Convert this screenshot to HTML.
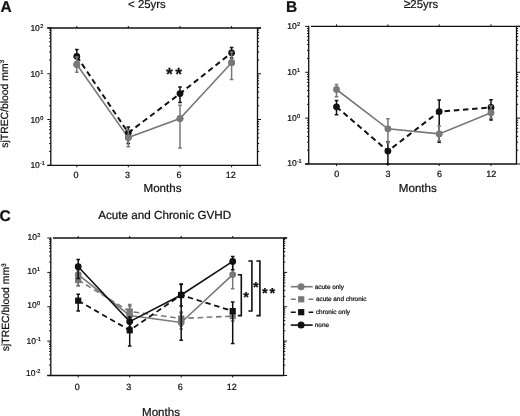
<!DOCTYPE html>
<html><head><meta charset="utf-8"><style>
html,body{margin:0;padding:0;background:#fff;}
svg{display:block;filter:grayscale(1);}
text{font-family:"Liberation Sans", sans-serif;fill:#111;text-rendering:geometricPrecision;stroke:#111;stroke-width:0.22px;}
</style></head><body>
<svg width="520" height="416" viewBox="0 0 520 416">
<rect width="520" height="416" fill="#fff"/>
<text x="0.6" y="11.7" font-size="15.5" font-weight="bold">A</text>
<text x="146.9" y="8.0" font-size="11.4" text-anchor="middle">&lt; 25yrs</text>
<path d="M47.3,28H261.0" stroke="#111" stroke-width="1.3" fill="none"/>
<path d="M47.3,165.3H257.5" stroke="#111" stroke-width="1.3" fill="none"/>
<path d="M50.8,27.4V165.3M257.5,28V165.9" stroke="#111" stroke-width="1.3" fill="none"/>
<path d="M47.30,28.00H50.8M257.5,28.00H261.00M47.30,73.77H50.8M257.5,73.77H261.00M47.30,119.53H50.8M257.5,119.53H261.00M47.30,165.30H50.8M257.5,165.30H261.00M49.10,59.99H50.8M257.5,59.99H259.20M49.10,51.93H50.8M257.5,51.93H259.20M49.10,46.21H50.8M257.5,46.21H259.20M49.10,41.78H50.8M257.5,41.78H259.20M49.10,38.15H50.8M257.5,38.15H259.20M49.10,35.09H50.8M257.5,35.09H259.20M49.10,32.44H50.8M257.5,32.44H259.20M49.10,30.09H50.8M257.5,30.09H259.20M49.10,105.76H50.8M257.5,105.76H259.20M49.10,97.70H50.8M257.5,97.70H259.20M49.10,91.98H50.8M257.5,91.98H259.20M49.10,87.54H50.8M257.5,87.54H259.20M49.10,83.92H50.8M257.5,83.92H259.20M49.10,80.86H50.8M257.5,80.86H259.20M49.10,78.20H50.8M257.5,78.20H259.20M49.10,75.86H50.8M257.5,75.86H259.20M49.10,151.52H50.8M257.5,151.52H259.20M49.10,143.46H50.8M257.5,143.46H259.20M49.10,137.75H50.8M257.5,137.75H259.20M49.10,133.31H50.8M257.5,133.31H259.20M49.10,129.69H50.8M257.5,129.69H259.20M49.10,126.62H50.8M257.5,126.62H259.20M49.10,123.97H50.8M257.5,123.97H259.20M49.10,121.63H50.8M257.5,121.63H259.20M76.8,28V26M76.8,165.3V167.3M128.3,28V26M128.3,165.3V167.3M180,28V26M180,165.3V167.3M231.6,28V26M231.6,165.3V167.3" stroke="#111" stroke-width="1" fill="none"/>
<text x="30.40" y="30.80" font-size="8.5">10<tspan font-size="5.6" dy="-3" dx="0.3">2</tspan></text>
<text x="30.40" y="76.77" font-size="8.5">10<tspan font-size="5.6" dy="-3" dx="0.3">1</tspan></text>
<text x="30.40" y="122.53" font-size="8.5">10<tspan font-size="5.6" dy="-3" dx="0.3">0</tspan></text>
<text x="30.40" y="167.90" font-size="8.5">10<tspan font-size="5.6" dy="-3" dx="0.3"><tspan font-size="4.5">-</tspan>1</tspan></text>
<text x="75.90" y="178.4" font-size="9" text-anchor="middle">0</text>
<text x="127.40" y="178.4" font-size="9" text-anchor="middle">3</text>
<text x="179.10" y="178.4" font-size="9" text-anchor="middle">6</text>
<text x="230.70" y="178.4" font-size="9" text-anchor="middle">12</text>
<text x="162.5" y="192" font-size="11.6" text-anchor="middle">Months</text>
<text transform="translate(7.6,147.7) rotate(-90)" font-size="10.4">sjTREC/blood mm<tspan font-size="6.5" dy="-3.5">3</tspan></text>
<polyline points="76.8,64.5 128.3,137.6 180,118.6 231.6,62.7" stroke="#787878" stroke-width="1.6" fill="none"/>
<path d="M180,105.2V148M178.2,105.2H181.8M178.2,148H181.8" stroke="#787878" stroke-width="1.5" fill="none"/>
<circle cx="76.8" cy="64.5" r="3.4" fill="#787878"/>
<circle cx="128.3" cy="137.6" r="3.4" fill="#787878"/>
<circle cx="180" cy="118.6" r="3.4" fill="#787878"/>
<circle cx="231.6" cy="62.7" r="3.4" fill="#787878"/>
<polyline points="76.8,56.3 128.3,132.8 180,93.6 231.6,52.8" stroke="#111" stroke-width="2.0" fill="none" stroke-dasharray="5.5 3.7"/>
<path d="M76.8,49.4V62M75.0,49.4H78.6M75.0,62H78.6M128.3,127V143.4M126.50000000000001,127H130.10000000000002M126.50000000000001,143.4H130.10000000000002M180,87.1V102.6M178.2,87.1H181.8M178.2,102.6H181.8M231.6,47.4V58M229.79999999999998,47.4H233.4M229.79999999999998,58H233.4" stroke="#111" stroke-width="1.5" fill="none"/>
<circle cx="76.8" cy="56.3" r="3.4" fill="#111"/>
<circle cx="128.3" cy="132.8" r="3.4" fill="#111"/>
<circle cx="180" cy="93.6" r="3.4" fill="#111"/>
<circle cx="231.6" cy="52.8" r="3.4" fill="#111"/>
<polyline points="76.8,64.5 128.3,137.6 180,118.6 231.6,62.7" stroke="#787878" stroke-width="0" fill="none"/>
<path d="M76.8,57V72.2M75.0,57H78.6M75.0,72.2H78.6M128.3,130V146.7M126.50000000000001,130H130.10000000000002M126.50000000000001,146.7H130.10000000000002M231.6,52V79.5M229.79999999999998,52H233.4M229.79999999999998,79.5H233.4" stroke="#787878" stroke-width="1.5" fill="none"/>
<circle cx="76.8" cy="64.5" r="3.4" fill="#787878"/>
<circle cx="128.3" cy="137.6" r="3.4" fill="#787878"/>
<circle cx="180" cy="118.6" r="3.4" fill="#787878"/>
<circle cx="231.6" cy="62.7" r="3.4" fill="#787878"/>
<text x="166.05" y="80.07" font-size="17.5" font-weight="bold">*</text>
<text x="175.35" y="80.07" font-size="17.5" font-weight="bold">*</text>
<text x="286.0" y="11.6" font-size="15.5" font-weight="bold">B</text>
<text x="403.8" y="7.9" font-size="12.5">≥</text><text x="410.3" y="7.9" font-size="11.4">25yrs</text>
<path d="M310.9,26.4H520.0" stroke="#111" stroke-width="1.3" fill="none"/>
<path d="M305.2,164H516.5" stroke="#111" stroke-width="1.3" fill="none"/>
<path d="M308.7,25.799999999999997V164M516.5,26.4V164.6" stroke="#111" stroke-width="1.3" fill="none"/>
<path d="M305.20,26.40H308.7M516.5,26.40H520.00M305.20,72.27H308.7M516.5,72.27H520.00M305.20,118.13H308.7M516.5,118.13H520.00M305.20,164.00H308.7M516.5,164.00H520.00M307.00,58.46H308.7M516.5,58.46H518.20M307.00,50.38H308.7M516.5,50.38H518.20M307.00,44.65H308.7M516.5,44.65H518.20M307.00,40.21H308.7M516.5,40.21H518.20M307.00,36.58H308.7M516.5,36.58H518.20M307.00,33.50H308.7M516.5,33.50H518.20M307.00,30.84H308.7M516.5,30.84H518.20M307.00,28.50H308.7M516.5,28.50H518.20M307.00,104.33H308.7M516.5,104.33H518.20M307.00,96.25H308.7M516.5,96.25H518.20M307.00,90.52H308.7M516.5,90.52H518.20M307.00,86.07H308.7M516.5,86.07H518.20M307.00,82.44H308.7M516.5,82.44H518.20M307.00,79.37H308.7M516.5,79.37H518.20M307.00,76.71H308.7M516.5,76.71H518.20M307.00,74.37H308.7M516.5,74.37H518.20M307.00,150.19H308.7M516.5,150.19H518.20M307.00,142.12H308.7M516.5,142.12H518.20M307.00,136.39H308.7M516.5,136.39H518.20M307.00,131.94H308.7M516.5,131.94H518.20M307.00,128.31H308.7M516.5,128.31H518.20M307.00,125.24H308.7M516.5,125.24H518.20M307.00,122.58H308.7M516.5,122.58H518.20M307.00,120.23H308.7M516.5,120.23H518.20M336.5,26.4V24.4M336.5,164V166M387.9,26.4V24.4M387.9,164V166M439.2,26.4V24.4M439.2,164V166M491,26.4V24.4M491,164V166" stroke="#111" stroke-width="1" fill="none"/>
<text x="287.20" y="29.40" font-size="8.5">10<tspan font-size="5.6" dy="-3" dx="0.3">2</tspan></text>
<text x="287.20" y="75.27" font-size="8.5">10<tspan font-size="5.6" dy="-3" dx="0.3">1</tspan></text>
<text x="287.20" y="121.13" font-size="8.5">10<tspan font-size="5.6" dy="-3" dx="0.3">0</tspan></text>
<text x="287.20" y="166.40" font-size="8.5">10<tspan font-size="5.6" dy="-3" dx="0.3"><tspan font-size="4.5">-</tspan>1</tspan></text>
<text x="336.70" y="177" font-size="9" text-anchor="middle">0</text>
<text x="388.10" y="177" font-size="9" text-anchor="middle">3</text>
<text x="439.40" y="177" font-size="9" text-anchor="middle">6</text>
<text x="491.20" y="177" font-size="9" text-anchor="middle">12</text>
<text x="417.8" y="192.0" font-size="11.6" text-anchor="middle">Months</text>
<polyline points="336.5,106.8 387.9,151.1 439.2,111.6 491,107.5" stroke="#111" stroke-width="2.0" fill="none" stroke-dasharray="5.5 3.7"/>
<path d="M336.5,100.6V114.7M334.7,100.6H338.3M334.7,114.7H338.3M387.9,141.7V164M386.09999999999997,141.7H389.7M386.09999999999997,164H389.7M439.2,99.9V142.3M437.4,99.9H441.0M437.4,142.3H441.0M491,99.8V120M489.2,99.8H492.8M489.2,120H492.8" stroke="#111" stroke-width="1.5" fill="none"/>
<circle cx="336.5" cy="106.8" r="3.4" fill="#111"/>
<circle cx="387.9" cy="151.1" r="3.4" fill="#111"/>
<circle cx="439.2" cy="111.6" r="3.4" fill="#111"/>
<circle cx="491" cy="107.5" r="3.4" fill="#111"/>
<polyline points="336.5,89.5 387.9,128.8 439.2,133.9 491,112.7" stroke="#787878" stroke-width="1.6" fill="none"/>
<path d="M336.5,84.4V96.7M334.7,84.4H338.3M334.7,96.7H338.3M387.9,118.7V142.5M386.09999999999997,118.7H389.7M386.09999999999997,142.5H389.7M439.2,126V140.8M437.4,126H441.0M437.4,140.8H441.0M491,106V118.2M489.2,106H492.8M489.2,118.2H492.8" stroke="#787878" stroke-width="1.5" fill="none"/>
<circle cx="336.5" cy="89.5" r="3.4" fill="#787878"/>
<circle cx="387.9" cy="128.8" r="3.4" fill="#787878"/>
<circle cx="439.2" cy="133.9" r="3.4" fill="#787878"/>
<circle cx="491" cy="112.7" r="3.4" fill="#787878"/>
<text x="-0.6" y="221.2" font-size="15.5" font-weight="bold">C</text>
<text x="164.7" y="218.8" font-size="11.68" text-anchor="middle">Acute and Chronic GVHD</text>
<path d="M53.0,238H287.1" stroke="#111" stroke-width="1.3" fill="none"/>
<path d="M47.3,375.5H283.6" stroke="#111" stroke-width="1.3" fill="none"/>
<path d="M50.8,237.4V375.5M283.6,238V376.1" stroke="#111" stroke-width="1.3" fill="none"/>
<path d="M47.30,238.00H50.8M283.6,238.00H287.10M47.30,272.38H50.8M283.6,272.38H287.10M47.30,306.75H50.8M283.6,306.75H287.10M47.30,341.12H50.8M283.6,341.12H287.10M47.30,375.50H50.8M283.6,375.50H287.10M49.10,262.03H50.8M283.6,262.03H285.30M49.10,255.97H50.8M283.6,255.97H285.30M49.10,251.68H50.8M283.6,251.68H285.30M49.10,248.35H50.8M283.6,248.35H285.30M49.10,245.63H50.8M283.6,245.63H285.30M49.10,243.32H50.8M283.6,243.32H285.30M49.10,241.33H50.8M283.6,241.33H285.30M49.10,239.57H50.8M283.6,239.57H285.30M49.10,296.40H50.8M283.6,296.40H285.30M49.10,290.35H50.8M283.6,290.35H285.30M49.10,286.05H50.8M283.6,286.05H285.30M49.10,282.72H50.8M283.6,282.72H285.30M49.10,280.00H50.8M283.6,280.00H285.30M49.10,277.70H50.8M283.6,277.70H285.30M49.10,275.71H50.8M283.6,275.71H285.30M49.10,273.95H50.8M283.6,273.95H285.30M49.10,330.78H50.8M283.6,330.78H285.30M49.10,324.72H50.8M283.6,324.72H285.30M49.10,320.43H50.8M283.6,320.43H285.30M49.10,317.10H50.8M283.6,317.10H285.30M49.10,314.38H50.8M283.6,314.38H285.30M49.10,312.07H50.8M283.6,312.07H285.30M49.10,310.08H50.8M283.6,310.08H285.30M49.10,308.32H50.8M283.6,308.32H285.30M49.10,365.15H50.8M283.6,365.15H285.30M49.10,359.10H50.8M283.6,359.10H285.30M49.10,354.80H50.8M283.6,354.80H285.30M49.10,351.47H50.8M283.6,351.47H285.30M49.10,348.75H50.8M283.6,348.75H285.30M49.10,346.45H50.8M283.6,346.45H285.30M49.10,344.46H50.8M283.6,344.46H285.30M49.10,342.70H50.8M283.6,342.70H285.30M78.2,238V236M78.2,375.5V377.5M129.7,238V236M129.7,375.5V377.5M181.2,238V236M181.2,375.5V377.5M232.7,238V236M232.7,375.5V377.5" stroke="#111" stroke-width="1" fill="none"/>
<text x="27.50" y="240.25" font-size="8.5">10<tspan font-size="5.6" dy="-3" dx="0.3">2</tspan></text>
<text x="27.20" y="274.38" font-size="8.5">10<tspan font-size="5.6" dy="-3" dx="0.3">1</tspan></text>
<text x="27.30" y="308.30" font-size="8.5">10<tspan font-size="5.6" dy="-3" dx="0.3">0</tspan></text>
<text x="26.60" y="343.68" font-size="8.5">10<tspan font-size="5.6" dy="-3" dx="0.3"><tspan font-size="4.5">-</tspan>1</tspan></text>
<text x="26.00" y="376.20" font-size="8.5">10<tspan font-size="5.6" dy="-3" dx="0.3"><tspan font-size="4.5">-</tspan>2</tspan></text>
<text x="77.30" y="389.5" font-size="9" text-anchor="middle">0</text>
<text x="128.80" y="389.5" font-size="9" text-anchor="middle">3</text>
<text x="180.30" y="389.5" font-size="9" text-anchor="middle">6</text>
<text x="231.80" y="389.5" font-size="9" text-anchor="middle">12</text>
<text x="161" y="416" font-size="11.6" text-anchor="middle">Months</text>
<text transform="translate(9,351.2) rotate(-90)" font-size="10.4">sjTREC/blood mm<tspan font-size="6.5" dy="-3.5">3</tspan></text>
<polyline points="78.2,280 129.7,311.5 181.2,318.5 232.7,316.1" stroke="#787878" stroke-width="1.6" fill="none" stroke-dasharray="5.5 3.7"/>
<path d="M78.2,270V286M76.4,270H80.0M76.4,286H80.0M129.7,304.6V318M127.89999999999999,304.6H131.5M127.89999999999999,318H131.5M181.2,312V326M179.39999999999998,312H183.0M179.39999999999998,326H183.0M232.7,310V321M230.89999999999998,310H234.5M230.89999999999998,321H234.5" stroke="#787878" stroke-width="1.5" fill="none"/>
<rect x="75.10000000000001" y="276.9" width="6.2" height="6.2" fill="#787878"/>
<rect x="126.6" y="308.4" width="6.2" height="6.2" fill="#787878"/>
<rect x="178.1" y="315.4" width="6.2" height="6.2" fill="#787878"/>
<rect x="229.6" y="313.0" width="6.2" height="6.2" fill="#787878"/>
<polyline points="78.2,274.6 129.7,315.5 181.2,322.5 232.7,274.6" stroke="#787878" stroke-width="1.6" fill="none"/>
<path d="M78.2,268V285.4M76.4,268H80.0M76.4,285.4H80.0M129.7,306V324M127.89999999999999,306H131.5M127.89999999999999,324H131.5M181.2,313V329M179.39999999999998,313H183.0M179.39999999999998,329H183.0M232.7,262V288.7M230.89999999999998,262H234.5M230.89999999999998,288.7H234.5" stroke="#787878" stroke-width="1.5" fill="none"/>
<circle cx="78.2" cy="274.6" r="3.4" fill="#787878"/>
<circle cx="129.7" cy="315.5" r="3.4" fill="#787878"/>
<circle cx="181.2" cy="322.5" r="3.4" fill="#787878"/>
<circle cx="232.7" cy="274.6" r="3.4" fill="#787878"/>
<polyline points="78.2,300.7 129.7,330.3 181.2,295 232.7,311.1" stroke="#111" stroke-width="1.75" fill="none" stroke-dasharray="5.5 3.7"/>
<path d="M78.2,294.2V311M76.4,294.2H80.0M76.4,311H80.0M129.7,322V346.1M127.89999999999999,322H131.5M127.89999999999999,346.1H131.5M181.2,284.1V340.3M179.39999999999998,284.1H183.0M179.39999999999998,340.3H183.0M232.7,302V343.4M230.89999999999998,302H234.5M230.89999999999998,343.4H234.5" stroke="#111" stroke-width="1.5" fill="none"/>
<rect x="75.10000000000001" y="297.59999999999997" width="6.2" height="6.2" fill="#111"/>
<rect x="126.6" y="327.2" width="6.2" height="6.2" fill="#111"/>
<rect x="178.1" y="291.9" width="6.2" height="6.2" fill="#111"/>
<rect x="229.6" y="308.0" width="6.2" height="6.2" fill="#111"/>
<polyline points="78.2,266.7 129.7,321.6 181.2,295 232.7,261.4" stroke="#111" stroke-width="1.6" fill="none"/>
<path d="M78.2,259.4V278.5M76.4,259.4H80.0M76.4,278.5H80.0M129.7,317V327M127.89999999999999,317H131.5M127.89999999999999,327H131.5M181.2,284.6V306M179.39999999999998,284.6H183.0M179.39999999999998,306H183.0M232.7,256.6V269.8M230.89999999999998,256.6H234.5M230.89999999999998,269.8H234.5" stroke="#111" stroke-width="1.5" fill="none"/>
<circle cx="78.2" cy="266.7" r="3.4" fill="#111"/>
<circle cx="129.7" cy="321.6" r="3.4" fill="#111"/>
<circle cx="181.2" cy="295" r="3.4" fill="#111"/>
<circle cx="232.7" cy="261.4" r="3.4" fill="#111"/>
<path d="M237.8,274.7H241.3V315.6H237.8" stroke="#111" stroke-width="1.6" fill="none"/>
<path d="M248.4,261H251.9V311H248.4" stroke="#111" stroke-width="1.6" fill="none"/>
<path d="M256.4,261H259.9V315.6H256.4" stroke="#111" stroke-width="1.6" fill="none"/>
<text x="243.24" y="302.25" font-size="14.5" font-weight="bold">*</text>
<text x="253.04" y="291.95" font-size="14.5" font-weight="bold">*</text>
<text x="262.04" y="298.45" font-size="14.5" font-weight="bold">*</text>
<text x="269.54" y="298.45" font-size="14.5" font-weight="bold">*</text>
<path d="M290.8,286.7H312.7" stroke="#787878" stroke-width="1.6"/>
<circle cx="301.1" cy="286.7" r="3.5" fill="#787878"/>
<text x="314.8" y="288.5" font-size="6.4">acute only</text>
<path d="M290.8,299.3H295.8M308.6,299.3H313.3" stroke="#787878" stroke-width="1.6"/>
<rect x="298.09999999999997" y="296.2" width="6.2" height="6.2" fill="#787878"/>
<text x="315.9" y="301.1" font-size="6.4">acute and chronic</text>
<path d="M290.8,312.2H295.8M308.6,312.2H313.3" stroke="#111" stroke-width="1.6"/>
<rect x="298.09999999999997" y="309.09999999999997" width="6.2" height="6.2" fill="#111"/>
<text x="315.9" y="314.0" font-size="6.4">chronic only</text>
<path d="M290.8,325.1H312.7" stroke="#111" stroke-width="1.6"/>
<circle cx="301.1" cy="325.1" r="3.5" fill="#111"/>
<text x="314.8" y="326.90000000000003" font-size="6.4">none</text>
</svg>
</body></html>
